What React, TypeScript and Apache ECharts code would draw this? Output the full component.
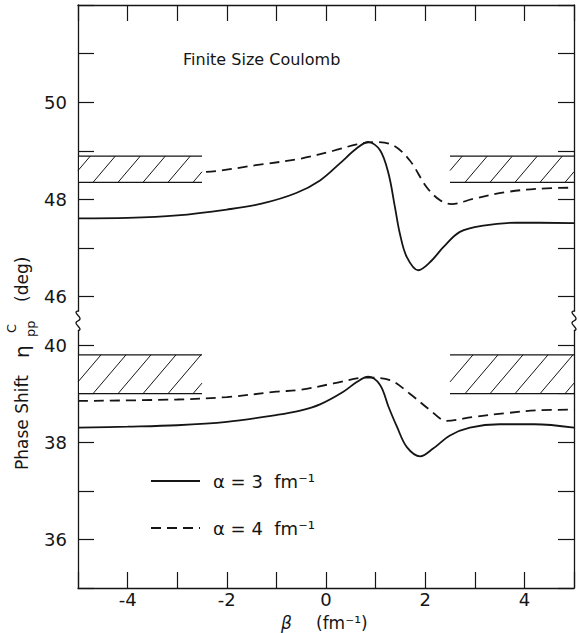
import React, { useEffect, useRef } from 'react';
import * as echarts from 'echarts';

// ---- data (real phase-shift values, degrees) ----
const upperSolid: [number, number][] = [
  [-5, 47.61], [-4, 47.62], [-3, 47.67], [-2, 47.79], [-1.3, 47.91], [-0.6, 48.13],
  [-0.12, 48.39], [0.28, 48.74], [0.62, 49.05], [0.85, 49.18], [1.09, 49.01],
  [1.26, 48.53], [1.39, 47.84], [1.49, 47.29], [1.63, 46.81], [1.86, 46.54],
  [2.1, 46.71], [2.37, 47.02], [2.7, 47.33], [3.17, 47.46], [3.84, 47.52], [5, 47.51],
];
const upperDashed: [number, number][] = [
  [-5, 48.52], [-2.5, 48.56], [-1.3, 48.72], [-0.5, 48.84], [0.15, 49.0], [0.62, 49.13],
  [1.0, 49.18], [1.36, 49.11], [1.69, 48.8], [2.03, 48.25], [2.3, 47.98], [2.53, 47.9],
  [2.97, 48.01], [3.64, 48.15], [4.31, 48.22], [5, 48.24],
];
const lowerSolid: [number, number][] = [
  [-5, 38.3], [-4, 38.32], [-3, 38.35], [-2, 38.42], [-1, 38.56], [-0.52, 38.65],
  [-0.12, 38.78], [0.35, 39.04], [0.62, 39.24], [0.85, 39.35], [1.09, 39.18],
  [1.26, 38.73], [1.43, 38.32], [1.63, 37.9], [1.9, 37.71], [2.16, 37.87], [2.5, 38.14],
  [2.9, 38.3], [3.5, 38.37], [4.2, 38.37], [5, 38.3],
];
const lowerDashed: [number, number][] = [
  [-5, 38.85], [-3, 38.88], [-2, 38.93], [-1, 39.04], [-0.5, 39.08], [0.15, 39.21],
  [0.82, 39.33], [1.29, 39.28], [1.69, 39.0], [2.1, 38.66], [2.43, 38.44], [2.97, 38.52],
  [3.64, 38.6], [4.31, 38.66], [5, 38.67],
];
const bandXRanges: [number, number][] = [[-5, -2.5], [2.5, 5]];
const upperBand: [number, number] = [48.35, 48.89];
const lowerBand: [number, number] = [39.0, 39.8];
const xTickLabels = [-4, -2, 0, 2, 4];
const yTickLabels = [36, 38, 40, 46, 48, 50];

// axis break: 40.5 .. 45.5 removed
const BREAK_LOW = 40.5;
const BREAK_HIGH = 45.5;
const SHIFT = BREAK_HIGH - BREAK_LOW;
const toAxis = (v: number) => (v >= BREAK_HIGH ? v - SHIFT : v);
const fromAxis = (v: number) => (v > BREAK_LOW ? v + SHIFT : v);

const INK = '#151515';
const FONT = '"DejaVu Sans", sans-serif';

export default function App() {
  const ref = useRef<HTMLDivElement>(null);
  useEffect(() => {
    if (!ref.current) return;
    const chart = echarts.init(ref.current, undefined, { renderer: 'svg' });
    const axisBase: any = {
      type: 'value',
      interval: 1,
      axisLine: { show: true, onZero: false, lineStyle: { color: INK, width: 1.3 } },
      axisTick: { show: true, inside: true, length: 16, lineStyle: { color: INK, width: 1.2 } },
      splitLine: { show: false },
    };
    const mapLine = (d: [number, number][]) => d.map(([x, y]) => [x, toAxis(y)]);
    const bandData: number[][] = [];
    bandXRanges.forEach(([a, b]) => {
      bandData.push([a, b, toAxis(upperBand[0]), toAxis(upperBand[1])]);
      bandData.push([a, b, toAxis(lowerBand[0]), toAxis(lowerBand[1])]);
    });
    const lineSeries = (data: [number, number][], dashed: boolean) => ({
      type: 'line',
      data: mapLine(data),
      showSymbol: false,
      smooth: 0.35,
      z: 2,
      lineStyle: { color: INK, width: 1.8, type: dashed ? [10, 6] : 'solid' },
    });
    chart.setOption({
      animation: false,
      backgroundColor: '#fff',
      grid: { left: 78, right: 5, top: 5, bottom: 45 },
      xAxis: [
        {
          ...axisBase, min: -5, max: 5, position: 'bottom',
          axisLabel: {
            margin: 2, fontSize: 18, color: INK, fontFamily: FONT,
            formatter: (v: number) => (xTickLabels.includes(v) ? String(v) : ''),
          },
        },
        { ...axisBase, min: -5, max: 5, position: 'top', axisLabel: { show: false } },
      ],
      yAxis: [
        {
          ...axisBase, min: 35, max: 47, position: 'left',
          axisLabel: {
            margin: 11, fontSize: 18, color: INK, fontFamily: FONT,
            formatter: (v: number) => {
              const r = Math.round(fromAxis(v) * 100) / 100;
              return yTickLabels.includes(r) ? String(r) : '';
            },
          },
        },
        { ...axisBase, min: 35, max: 47, position: 'right', axisLabel: { show: false } },
      ],
      series: [
        lineSeries(upperSolid, false),
        lineSeries(upperDashed, true),
        lineSeries(lowerSolid, false),
        lineSeries(lowerDashed, true),
        {
          type: 'custom',
          z: 5,
          encode: { x: [0, 1], y: [2, 3] },
          data: bandData,
          renderItem: (params: any, api: any) => {
            const tl = api.coord([api.value(0), api.value(3)]);
            const br = api.coord([api.value(1), api.value(2)]);
            const left = tl[0], right = br[0], top = tl[1], bottom = br[1];
            const h = bottom - top;
            const dx = 0.85 * h;
            const spacing = 25;
            const stroke = { stroke: INK, lineWidth: 1 };
            const children: any[] = [
              { type: 'rect', shape: { x: left + 1, y: top, width: right - left - 2, height: h }, style: { fill: '#fff' } },
              { type: 'line', shape: { x1: left, y1: top, x2: right, y2: top }, style: { ...stroke, lineWidth: 1.2 } },
              { type: 'line', shape: { x1: left, y1: bottom, x2: right, y2: bottom }, style: { ...stroke, lineWidth: 1.2 } },
            ];
            const start = left + 15 - Math.ceil((dx + 15) / spacing) * spacing;
            for (let b = start; b < right; b += spacing) {
              let sx = b, sy = bottom, ex = b + dx, ey = top;
              if (ex <= left) continue;
              if (sx < left) { const t = (left - b) / dx; sx = left; sy = bottom - t * h; }
              if (ex > right) { const t = (right - b) / dx; ex = right; ey = bottom - t * h; }
              children.push({ type: 'line', shape: { x1: sx, y1: sy, x2: ex, y2: ey }, style: stroke });
            }
            return { type: 'group', children };
          },
        },
      ],
    });

    const yb = chart.convertToPixel({ yAxisIndex: 0 }, BREAK_LOW) as number;
    const xl = chart.convertToPixel({ xAxisIndex: 0 }, -5) as number;
    const xr = chart.convertToPixel({ xAxisIndex: 0 }, 5) as number;
    const breakMark = (x: number) => [
      { type: 'rect', shape: { x: x - 3, y: yb - 9, width: 6, height: 18 }, style: { fill: '#fff' }, z: 100 },
      { type: 'bezierCurve', shape: { x1: x, y1: yb - 10, x2: x, y2: yb, cpx1: x - 7, cpy1: yb - 8, cpx2: x + 7, cpy2: yb - 3 }, style: { stroke: INK, lineWidth: 1.3, fill: 'none' }, z: 101 },
      { type: 'bezierCurve', shape: { x1: x, y1: yb, x2: x, y2: yb + 10, cpx1: x - 7, cpy1: yb + 3, cpx2: x + 7, cpy2: yb + 8 }, style: { stroke: INK, lineWidth: 1.3, fill: 'none' }, z: 101 },
    ];
    const txt = (text: string, x: number, y: number, fontSize: number, extra: any = {}) => ({
      type: 'text', x, y, z: 100,
      style: { text, fontSize, fontFamily: FONT, fill: INK, align: 'left', verticalAlign: 'middle', ...extra },
    });
    const rot = (text: string, x: number, y: number, fontSize: number) => ({
      ...txt(text, x, y, fontSize), rotation: Math.PI / 2,
    });
    chart.setOption({
      graphic: [
        ...breakMark(xl),
        ...breakMark(xr),
        txt('Finite Size Coulomb', 183, 59, 16),
        { type: 'line', shape: { x1: 151, y1: 481, x2: 200, y2: 481 }, style: { stroke: INK, lineWidth: 1.8 }, z: 100 },
        { type: 'line', shape: { x1: 151, y1: 528, x2: 200, y2: 528 }, style: { stroke: INK, lineWidth: 1.8, lineDash: [10, 6] }, z: 100 },
        txt('α = 3  fm⁻¹', 213, 481, 18),
        txt('α = 4  fm⁻¹', 213, 528, 18),
        txt('β', 281, 623, 17, { fontStyle: 'italic' }),
        txt('(fm⁻¹)', 316, 623, 17),
        rot('Phase Shift', 22, 470, 17),
        rot('η', 22, 358, 20),
        rot('pp', 30, 337, 13),
        rot('C', 11, 333, 13),
        rot('(deg)', 22, 302, 17),
      ],
    });
    return () => chart.dispose();
  }, []);
  return <div ref={ref} style={{ position: 'absolute', left: 0, top: 0, width: 579, height: 633, background: '#fff' }} />;
}
